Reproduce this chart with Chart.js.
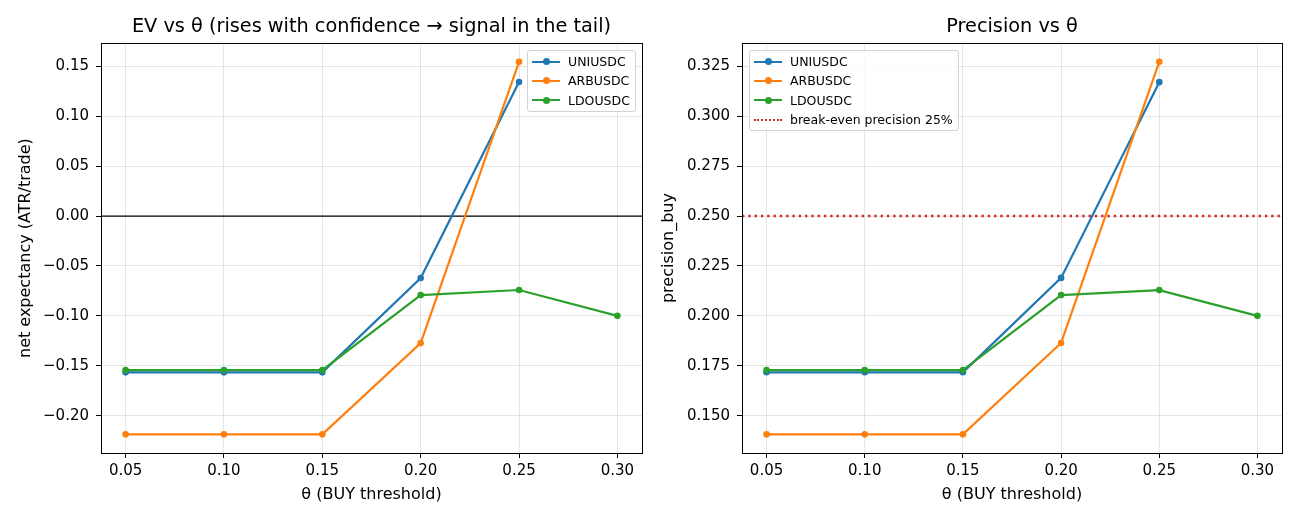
<!DOCTYPE html>
<html>
<head>
<meta charset="utf-8">
<title>EV / Precision vs θ</title>
<script src="https://cdn.jsdelivr.net/npm/chart.js@4.4.1/dist/chart.umd.min.js"></script>
<style>
    html, body { margin: 0; padding: 0; background: #fff; }
    body { width: 1300px; height: 520px; position: relative; overflow: hidden; font-family: "DejaVu Sans", sans-serif; }
    .panel { position: absolute; top: 0; width: 650px; height: 520px; }
    .legend {
        position: absolute; background: rgba(255,255,255,0.8);
        border: 1px solid #d3d3d3; border-radius: 3px;
        padding: 1px 5px 1px 4px; font-size: 12.5px; color: #000;
    }
    .legend .row { height: 19.3px; display: flex; align-items: center; white-space: nowrap; }
    .legend .sample { position: relative; width: 28px; height: 19px; margin-right: 8px; flex: none; }
    .legend .sample i { position: absolute; left: 0; right: 0; top: 8.5px; border-top: 2px solid; }
    .legend .sample b { position: absolute; left: 10.5px; top: 6px; width: 7px; height: 7px; border-radius: 50%; }
</style>
</head>
<body>
<div class="panel" style="left:0"><canvas id="chartEV" width="650" height="520"></canvas></div>
<div class="panel" style="left:650px"><canvas id="chartPrec" width="650" height="520"></canvas></div>
<div class="legend" id="legendEV" style="left:527px;top:50px"></div>
<div class="legend" id="legendPrec" style="left:749px;top:50px"></div>

<script>
"use strict";

// ═══════════════════════════════════════
// DONNÉES
// ═══════════════════════════════════════

const THETA   = [0.05, 0.10, 0.15, 0.20, 0.25, 0.30];
const SYMBOLS = ["UNIUSDC", "ARBUSDC", "LDOUSDC"];
const COLORS  = ["#1f77b4", "#ff7f0e", "#2ca02c"];

// EV net (ATR/trade) — null = pas de trade à ce seuil
const EV_UNI = [-0.1566, -0.1566, -0.1566, -0.0621, 0.1343, null];
const EV_ARB = [-0.2187, -0.2187, -0.2187, -0.1273, 0.1545, null];
const EV_LDO = [-0.1543, -0.1543, -0.1543, -0.0792, -0.0741, -0.1000];

// precision_buy
const PREC_UNI = [0.1717, 0.1717, 0.1717, 0.2190, 0.3171, null];
const PREC_ARB = [0.1406, 0.1406, 0.1406, 0.1864, 0.3273, null];
const PREC_LDO = [0.1728, 0.1728, 0.1728, 0.2104, 0.2129, 0.2000];

const BREAK_EVEN = 0.25;

const X_TICKS    = [0.05, 0.10, 0.15, 0.20, 0.25, 0.30];
const EV_TICKS   = [-0.20, -0.15, -0.10, -0.05, 0.00, 0.05, 0.10, 0.15];
const PREC_TICKS = [0.150, 0.175, 0.200, 0.225, 0.250, 0.275, 0.300, 0.325];

// ═══════════════════════════════════════
// UTILITAIRES
// ═══════════════════════════════════════

Chart.defaults.font.family = "'DejaVu Sans', sans-serif";
Chart.defaults.color = "#000";

const GRID = "rgba(176,176,176,0.32)";

function fmt(v, d) {
    return (v < 0 ? "\u2212" : "") + Math.abs(v).toFixed(d);
}

// étendue + marge de 5 % comme matplotlib
function range(values) {
    const v = values.filter(x => x !== null);
    const lo = Math.min(...v), hi = Math.max(...v);
    const m = (hi - lo) * 0.05;
    return [lo - m, hi + m];
}

function toPoints(series) {
    return THETA.map((t, i) => ({ x: t, y: series[i] })).filter(p => p.y !== null);
}

function buildDatasets(seriesList) {
    // LDO dessiné en dernier (au-dessus), comme dans l'original
    return seriesList.map((s, i) => ({
        label: SYMBOLS[i],
        data: toPoints(s),
        borderColor: COLORS[i],
        backgroundColor: COLORS[i],
        borderWidth: 2.2,
        pointRadius: 3.3,
        pointBorderWidth: 0,
        pointHoverRadius: 3.3,
        tension: 0,
        order: seriesList.length - i
    }));
}

// cadre noir + lignes horizontales de référence
const framePlugin = {
    id: "frame",
    beforeDatasetsDraw(chart, args, opts) {
        const { ctx, chartArea: a, scales: { y } } = chart;
        (opts.hlines || []).forEach(h => {
            const py = y.getPixelForValue(h.value);
            ctx.save();
            ctx.strokeStyle = h.color;
            ctx.lineWidth = h.width;
            ctx.setLineDash(h.dash || []);
            ctx.beginPath();
            ctx.moveTo(a.left, py);
            ctx.lineTo(a.right, py);
            ctx.stroke();
            ctx.restore();
        });
    },
    afterDatasetsDraw(chart) {
        const { ctx, chartArea: a } = chart;
        ctx.save();
        ctx.strokeStyle = "#000";
        ctx.lineWidth = 1;
        ctx.strokeRect(Math.round(a.left) + 0.5, Math.round(a.top) + 0.5,
                       Math.round(a.right - a.left), Math.round(a.bottom - a.top));
        ctx.restore();
    }
};

function makeChart(id, o) {
    const [ymin, ymax] = range(o.series.flat());
    const [xmin, xmax] = range(THETA);

    return new Chart(document.getElementById(id), {
        type: "line",
        data: { datasets: buildDatasets(o.series) },
        plugins: [framePlugin],
        options: {
            responsive: false, animation: false, devicePixelRatio: 1,
            layout: { padding: { left: 0, right: o.padRight, top: 0, bottom: 0 } },
            plugins: {
                legend: { display: false },
                tooltip: { enabled: false },
                title: {
                    display: true, text: o.title, color: "#000", fullSize: false,
                    font: { size: 19.3, weight: "normal" },
                    padding: { top: 15, bottom: 5 }
                },
                frame: { hlines: o.hlines }
            },
            scales: {
                x: {
                    type: "linear", min: xmin, max: xmax,
                    afterBuildTicks: s => { s.ticks = X_TICKS.map(v => ({ value: v })); },
                    afterFit: s => { s.height = 67; },
                    ticks: { font: { size: 15 }, padding: 4, maxRotation: 0, callback: v => fmt(v, 2) },
                    grid: { color: GRID, lineWidth: 1, tickLength: 5, tickColor: "#000", tickWidth: 1 },
                    border: { display: true, color: "#000", width: 1 },
                    title: { display: true, text: "θ (BUY threshold)", font: { size: 16 }, padding: { top: 4, bottom: 15.5 } }
                },
                y: {
                    type: "linear", min: ymin, max: ymax,
                    afterBuildTicks: s => { s.ticks = o.yTicks.map(v => ({ value: v })); },
                    afterFit: s => { s.width = o.yWidth; },
                    ticks: { font: { size: 15 }, padding: 7, callback: v => fmt(v, o.dec) },
                    grid: { color: GRID, lineWidth: 1, tickLength: 5, tickColor: "#000", tickWidth: 1 },
                    border: { display: true, color: "#000", width: 1 },
                    title: { display: true, text: o.yTitle, font: { size: 16 }, padding: { top: o.yTitlePad, bottom: 0 } }
                }
            }
        }
    });
}

function buildLegend(elId, extra) {
    const rows = SYMBOLS.map((s, i) =>
        `<div class="row"><span class="sample"><i style="border-color:${COLORS[i]}"></i><b style="background:${COLORS[i]}"></b></span>${s}</div>`
    );
    if (extra) {
        rows.push(`<div class="row"><span class="sample"><i style="border-top:2.5px dotted ${extra.color}"></i></span>${extra.label}</div>`);
    }
    document.getElementById(elId).innerHTML = rows.join("");
}

// ═══════════════════════════════════════
// GRAPHIQUES
// ═══════════════════════════════════════

makeChart("chartEV", {
    title: "EV vs θ (rises with confidence → signal in the tail)",
    yTitle: "net expectancy (ATR/trade)",
    series: [EV_UNI, EV_ARB, EV_LDO],
    yTicks: EV_TICKS, dec: 2,
    yWidth: 101, yTitlePad: 16, padRight: 8,
    hlines: [{ value: 0, color: "#000", width: 1.2 }]
});

makeChart("chartPrec", {
    title: "Precision vs θ",
    yTitle: "precision_buy",
    series: [PREC_UNI, PREC_ARB, PREC_LDO],
    yTicks: PREC_TICKS, dec: 3,
    yWidth: 92, yTitlePad: 9, padRight: 18,
    hlines: [{ value: BREAK_EVEN, color: "#d62728", width: 2.4, dash: [2.4, 3.9] }]
});

buildLegend("legendEV");
buildLegend("legendPrec", { label: "break-even precision 25%", color: "#d62728" });
</script>
</body>
</html>
